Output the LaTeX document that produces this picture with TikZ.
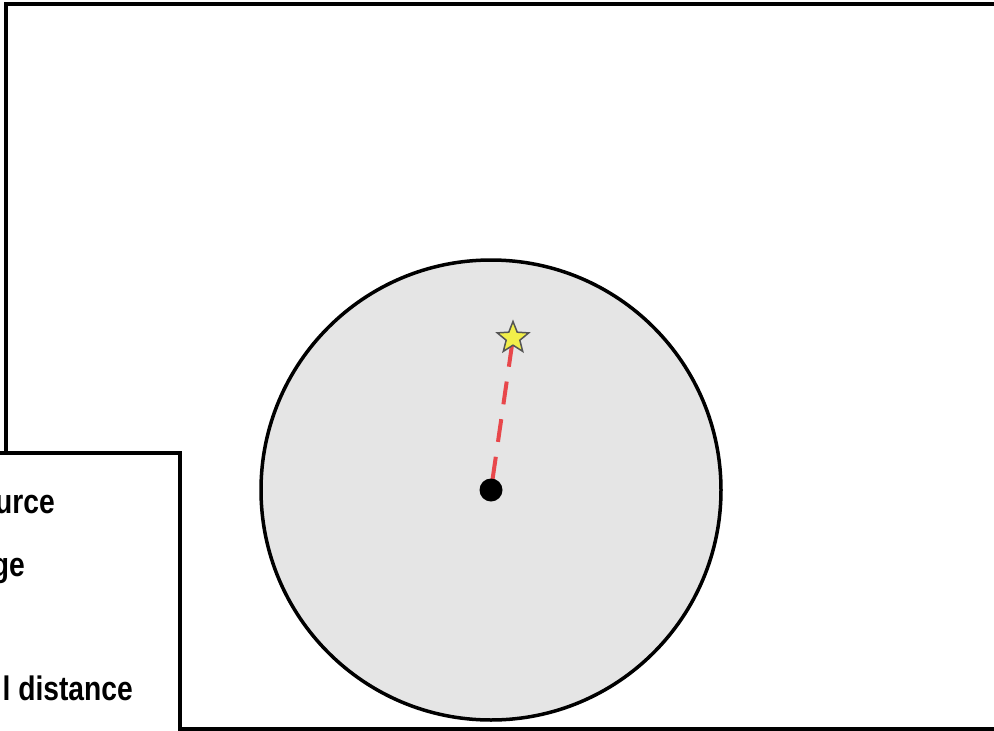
\documentclass[tikz,border=0pt]{standalone}
\usepackage{fontspec}
\setmainfont{Liberation Sans}[FakeStretch=0.83]
\usetikzlibrary{shapes.geometric}
\definecolor{zonefill}{HTML}{E5E5E5}
\definecolor{pathred}{HTML}{E8474B}
\definecolor{staryellow}{HTML}{F2EF4A}
\definecolor{stargray}{HTML}{555555}
\tikzset{
  frame/.style={draw=black, line width=4pt},
  zone/.style={circle, draw=black, line width=3.5pt, fill=zonefill, minimum size=460pt, inner sep=0pt},
  srcdot/.style={circle, fill=black, minimum size=23pt, inner sep=0pt},
  target/.style={star, star points=5, star point ratio=2.3, draw=stargray, line width=1.5pt, fill=staryellow, minimum size=33pt, inner sep=0pt},
  reddash/.style={draw=pathred, line width=4pt, dash pattern=on 23pt off 15pt, dash phase=32pt},
  legendbox/.style={draw=black, line width=4pt, fill=white},
  legtext/.style={font=\bfseries\fontsize{34}{36}\selectfont, anchor=base east, inner sep=0pt}
}
\begin{document}
\begin{tikzpicture}[x=1pt, y=-1pt]
\useasboundingbox (0,0) rectangle (994,731);
\clip (0,0) rectangle (994,731);
\draw[frame] (5.5,3.5) rectangle (1010,729);
\node[zone] (zone) at (491,490) {};
\coordinate (starpos) at (513,338);
\coordinate (srcpos) at (491,490);
\draw[reddash] (starpos) -- (srcpos);
\node[srcdot] (src) at (srcpos) {};
\node[target] (tgt) at (starpos) {};
\draw[legendbox] (-20,453) rectangle (180,745);
\node[legtext] (l1) at (55,513) {urce};
\node[legtext] (l2) at (25,576) {ge};
\node[legtext] (l3) at (133,700) {l distance};
\end{tikzpicture}
\end{document}
